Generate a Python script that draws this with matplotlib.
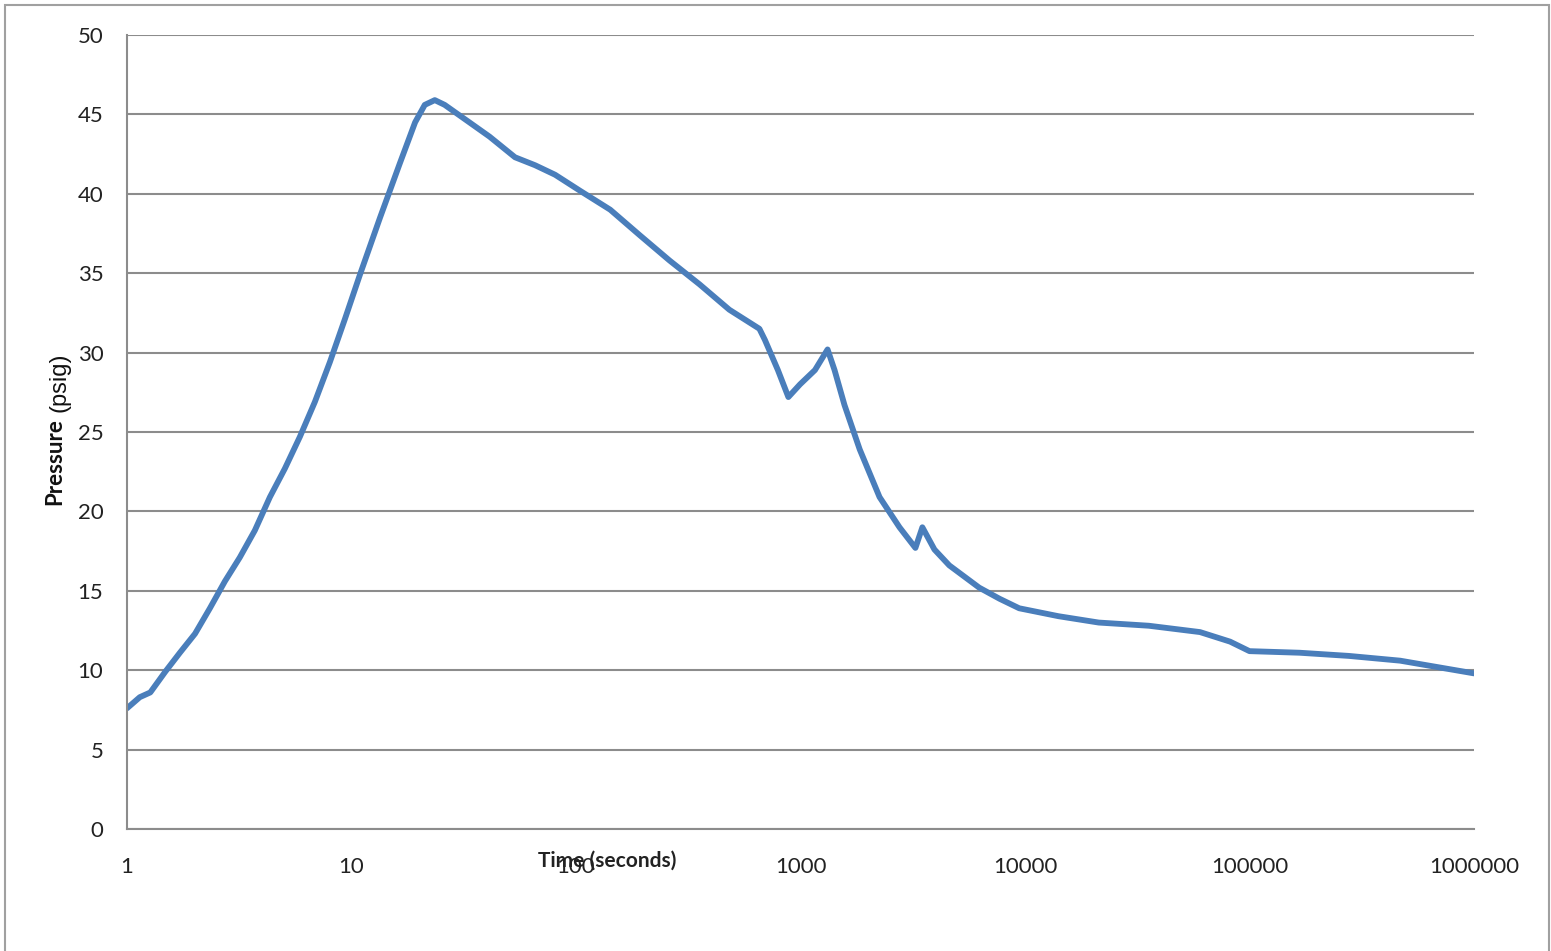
import matplotlib
matplotlib.use('Agg')
import matplotlib.pyplot as plt
from matplotlib.patches import Rectangle
from matplotlib.ticker import FixedLocator, FixedFormatter

time_s = [1, 1.14, 1.27, 1.48, 1.72, 2.01, 2.34, 2.73, 3.18, 3.71, 4.33,
          5.05, 5.89, 6.87, 8.01, 9.34, 10.9, 13.4, 16.4, 19.2, 21.2, 23.5,
          26.0, 33.5, 41.2, 53.5, 65.7, 80.7, 104, 142, 192, 261, 355, 482,
          656, 694, 793, 883, 995, 1160, 1320, 1418, 1570, 1836, 2250, 2760,
          3250, 3490, 3950, 4600, 6250, 7700, 9420, 14100, 21300, 35600,
          60200, 81900, 100000, 167000, 277000, 469000, 1000000]
pressure = [7.6, 8.3, 8.6, 9.9, 11.1, 12.3, 13.9, 15.6, 17.1, 18.8, 20.9,
            22.7, 24.7, 26.9, 29.4, 32.1, 34.9, 38.5, 41.9, 44.5, 45.6, 45.9,
            45.6, 44.5, 43.6, 42.3, 41.8, 41.2, 40.2, 39.0, 37.4, 35.8, 34.3,
            32.7, 31.5, 30.8, 28.9, 27.2, 28.0, 28.9, 30.2, 28.9, 26.7, 23.9,
            20.9, 19.0, 17.7, 19.0, 17.6, 16.6, 15.2, 14.5, 13.9, 13.4, 13.0,
            12.8, 12.4, 11.8, 11.2, 11.1, 10.9, 10.6, 9.8]

x_ticks = [1, 10, 100, 1000, 10000, 100000, 1000000]
x_tick_labels = ['1', '10', '100', '1000', '10000', '100000', '1000000']
y_ticks = [0, 5, 10, 15, 20, 25, 30, 35, 40, 45, 50]

plt.rcParams['font.family'] = ['Lato', 'DejaVu Sans']

fig = plt.figure(figsize=(15.51, 9.51), dpi=100)
fig.patches.append(Rectangle((5 / 1551, -0.05), 1544 / 1551, 1.05 - 5 / 951,
                             transform=fig.transFigure, fill=False,
                             edgecolor='#a0a0a0', linewidth=1.5))

ax = fig.add_axes([127 / 1551, 1 - 829 / 951, 1347 / 1551, 794 / 951])
ax.plot(time_s, pressure, color='#4a7ebb', linewidth=4.2,
        solid_joinstyle='round', solid_capstyle='round')

ax.set_xscale('log')
ax.set_xlim(1, 1000000)
ax.set_ylim(0, 50)
ax.xaxis.set_major_locator(FixedLocator(x_ticks))
ax.xaxis.set_major_formatter(FixedFormatter(x_tick_labels))
ax.xaxis.set_minor_locator(FixedLocator([]))
ax.set_yticks(y_ticks)
ax.grid(axis='y', color='#8c8c8c', linewidth=1.5)
ax.set_axisbelow(True)

for s in ['top', 'right']:
  ax.spines[s].set_visible(False)
for s in ['left', 'bottom']:
  ax.spines[s].set_color('#8c8c8c')
  ax.spines[s].set_linewidth(1.5)

ax.tick_params(axis='both', length=0, labelsize=16, colors='#222222')
ax.tick_params(axis='y', pad=17)
ax.tick_params(axis='x', pad=20)

# axis titles sit where the reference puts them ("Time" overlaps the 100 label there too)
fig.text(607 / 1551, 1 - 861 / 951, 'Time (seconds)', ha='center', va='center',
         fontsize=15, fontweight='bold', color='#222222')
fig.text(55 / 1551, 1 - 462 / 951, 'Pressure', ha='center', va='center',
         rotation=90, fontsize=16, fontweight='bold', color='#111111')
fig.text(59 / 1551, 1 - 382 / 951, '(psig)', ha='center', va='center',
         rotation=90, fontsize=17, family='Liberation Sans', color='#111111')

fig.savefig('out.png', dpi=100)
